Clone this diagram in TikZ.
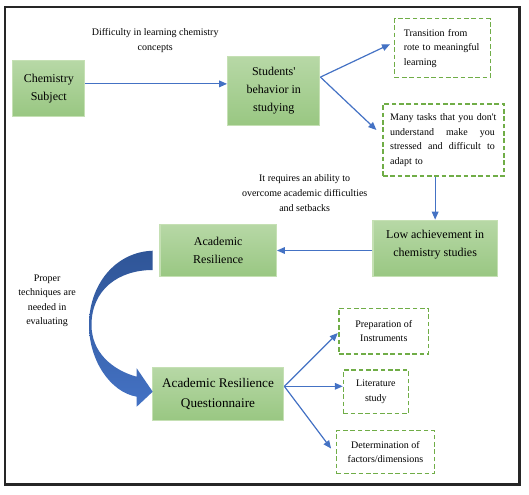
\documentclass[tikz,border=0pt]{standalone}
\usepackage{fontspec}
\setmainfont{Liberation Serif}
\usepackage{tikz}
\usetikzlibrary{arrows.meta,calc}

\definecolor{boxtop}{RGB}{183,216,166}
\definecolor{boxbot}{RGB}{153,199,130}
\definecolor{boxedge}{RGB}{197,224,180}
\definecolor{dashgreen}{RGB}{112,173,71}
\definecolor{linkblue}{RGB}{68,114,196}
\definecolor{curvedark}{RGB}{47,85,151}
\definecolor{curvelight}{RGB}{68,114,196}

\newcommand{\smalltxt}{\fontsize{7.5pt}{10.9pt}\selectfont}
\newcommand{\boxtxt}{\fontsize{9pt}{13.5pt}\selectfont}
\newcommand{\bigtxt}{\fontsize{9.9pt}{15pt}\selectfont}

\tikzset{
  gbox/.style={draw=boxedge, line width=0.8pt, top color=boxtop, bottom color=boxbot, align=center, inner sep=1pt, font=\boxtxt},
  dbox/.style={draw=dashgreen, line width=0.9pt, dash pattern=on 3.5pt off 2pt, fill=white, inner sep=1pt, font=\smalltxt},
  conn/.style={draw=linkblue, line width=0.9pt, -{Triangle[length=6pt,width=5pt]}},
  note/.style={align=center, inner sep=0.75pt, font=\smalltxt}
}

\begin{document}
\begin{tikzpicture}[x=0.75pt,y=0.75pt,yscale=-1,xscale=1]
\useasboundingbox (0,0) rectangle (529,494);
% frame
\draw[line width=1.6pt, black!85] (4.7,7) rectangle (519.5,484.5);

% green boxes
\node[gbox, minimum width=54pt, minimum height=41.7pt] (chem) at (48.8,88.4) {Chemistry\\Subject};
\node[gbox, minimum width=69.2pt, minimum height=51.75pt] (stud) at (273.75,91.1) {Students\textquotesingle\\behavior in\\studying};
\node[gbox, minimum width=93.2pt, minimum height=42.45pt] (low) at (435.15,248.5) {Low achievement in\\chemistry studies\\[-6pt]};
\node[gbox, minimum width=87.3pt, minimum height=39.45pt] (ar) at (218.2,250.5) {Academic\\Resilience};
\node[gbox, font=\bigtxt, minimum width=98.7pt, minimum height=39.9pt] (arq) at (218,393.9) {Academic Resilience\\Questionnaire};

% dashed boxes
\node[dbox, minimum width=71.7pt, minimum height=44.2pt, text width=57.8pt, align=left] (trans) at (442.4,48.2) {Transition from\\rote to meaningful\\learning};
\node[dbox, minimum width=90.75pt, minimum height=54pt, text width=80pt, align=left] (many) at (443.5,140) {Many tasks that you don\textquotesingle t\\\makebox[78.5pt]{understand\hfill make\hfill you}\\\makebox[78.5pt]{stressed\hfill and\hfill difficult\hfill to}\\adapt to};
\node[dbox, minimum width=67.2pt, minimum height=34.35pt, align=center] (prep) at (383.8,331) {Preparation of\\Instruments};
\node[dbox, minimum width=48.75pt, minimum height=32.85pt, align=center] (lit) at (375.9,391.9) {Literature\\study};
\node[dbox, minimum width=73.2pt, minimum height=32.3pt, align=center] (det) at (385.5,452.15) {Determination of\\factors/dimensions};

% free texts
\node[note] (diff) at (155.2,40.7) {Difficulty in learning chemistry\\concepts};
\node[note] (req) at (304.7,193.1) {It requires an ability to\\overcome academic difficulties\\and setbacks};
\node[note] (tech) at (47.1,300.9) {Proper\\techniques are\\needed in\\evaluating};

% connectors
\coordinate (c1) at ($(chem.north east)!0.42!(chem.south east)$);
\draw[conn] (c1) -- (c1 -| stud.west);
\coordinate (s1) at ($(stud.north east)!0.3!(stud.south east)$);
\draw[conn] (s1) -- ($(trans.west)+(-4,-4)$);
\draw[conn] (s1) -- ($(many.west)+(-6,-10)$);
\draw[conn] (many.south -| low.north) -- (low.north);
\draw[conn] (low.west |- ar.east) -- (ar.east);
\coordinate (q1) at ($(arq.north east)!0.36!(arq.south east)$);
\draw[conn] (q1) -- ($(prep.west)+(-0.6,2)$);
\draw[conn] (q1) -- (q1 -| lit.west);
\draw[conn] (q1) -- ($(det.west)+(-5,-3.6)$);

% curved arrow
\path[top color=curvedark, bottom color=curvelight]
  (152.7,250.7) .. controls (115,252) and (89,285) .. (89,325)
  .. controls (89,360) and (110,392) .. (136.7,396.7)
  -- (136.7,406.7) -- (152.7,391.7) -- (136.7,368.3) -- (136.7,376.7)
  .. controls (112,370) and (91.5,352) .. (91.5,325)
  .. controls (91.5,290) and (118,270) .. (152.7,270) -- cycle;
\end{tikzpicture}
\end{document}
